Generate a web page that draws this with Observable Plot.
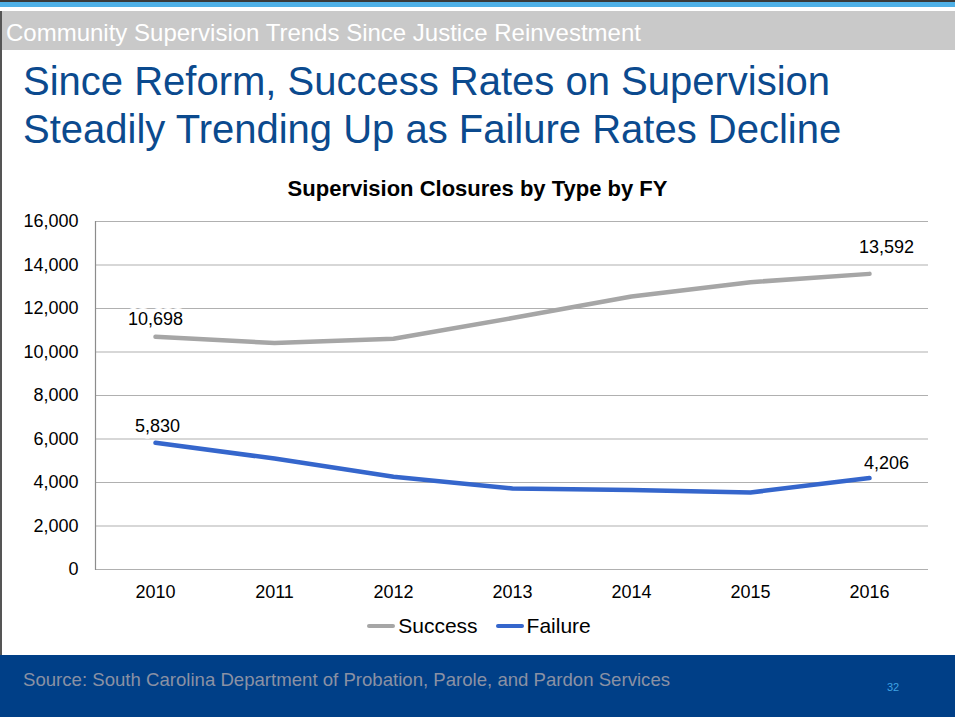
<!DOCTYPE html>
<html>
<head>
<meta charset="utf-8">
<script src="https://cdn.jsdelivr.net/npm/d3@7"></script>
<script src="https://cdn.jsdelivr.net/npm/@observablehq/plot@0.6"></script>
<style>
  html, body { margin:0; padding:0; }
  body { width:955px; height:717px; overflow:hidden; background:#fff; position:relative;
         font-family: Arial, "Liberation Sans", Helvetica, sans-serif; }
  .abs { position:absolute; }
  #topline { left:0; top:0; width:955px; height:2px; background:#3a3a3a; }
  #blueband { left:0; top:2px; width:955px; height:5px; background:#4fb0e6; }
  #grayband { left:0; top:11px; width:955px; height:39px; background:#c9c9c9; }
  #section { left:6px; top:12px; height:39px; line-height:41px; font-size:24px; color:#fff; white-space:nowrap; }
  #leftborder { left:0; top:11px; width:1.5px; height:644px; background:#555; }
  #title { left:23px; top:57px; font-size:40px; line-height:48px; color:#0b4a8e; white-space:nowrap; }
  #charttitle { left:0; width:955px; top:176px; text-align:center; font-size:22px; font-weight:bold; color:#000; }
  #chart { left:0; top:200px; }
  #legend { left:0; width:958px; top:614px; display:flex; justify-content:center; align-items:center; font-size:21px; color:#000; }
  .sw { display:inline-block; width:28px; height:4px; border-radius:2px; margin-right:3px; }
  .item { display:flex; align-items:center; margin:0 9px; }
  #footer { left:0; top:655px; width:955px; height:62px; background:#003f87; }
  #source { left:23px; top:669px; font-size:18.6px; color:#8a91a4; white-space:nowrap; }
  #page { left:887px; top:681px; font-size:11px; color:#3fa2e3; }
</style>
</head>
<body>
<div id="topline" class="abs"></div>
<div id="blueband" class="abs"></div>
<div id="grayband" class="abs"></div>
<div id="section" class="abs">Community Supervision Trends Since Justice Reinvestment</div>
<div id="leftborder" class="abs"></div>
<div id="title" class="abs">Since Reform, Success Rates on Supervision<br>Steadily Trending Up as Failure Rates Decline</div>
<div id="charttitle" class="abs">Supervision Closures by Type by FY</div>
<div id="chart" class="abs"></div>
<div id="legend" class="abs">
  <span class="item"><span class="sw" style="background:#a6a6a6"></span>Success</span>
  <span class="item"><span class="sw" style="background:#3566cc"></span>Failure</span>
</div>
<div id="footer" class="abs"></div>
<div id="source" class="abs">Source: South Carolina Department of Probation, Parole, and Pardon Services</div>
<div id="page" class="abs">32</div>
<script>
const years = ["2010", "2011", "2012", "2013", "2014", "2015", "2016"];
const success = [10698, 10410, 10610, 11560, 12555, 13210, 13592];
const failure = [5830, 5100, 4262, 3725, 3650, 3540, 4206];
const seriesNames = ["Success", "Failure"];
const seriesColors = ["#a6a6a6", "#3566cc"];
const yTicks = [0, 2000, 4000, 6000, 8000, 10000, 12000, 14000, 16000];

const data = years.flatMap((yr, i) => [
  {year: yr, series: "Success", value: success[i]},
  {year: yr, series: "Failure", value: failure[i]}
]);
const first = years[0], last = years[years.length - 1];
const fmt = d3.format(",");

const labelStyle = {x: "year", y: "value", text: d => fmt(d.value), fill: "#000",
  stroke: "white", strokeWidth: 8, fontSize: 18};

const chart = Plot.plot({
  width: 955,
  height: 410,
  marginTop: 21,
  marginBottom: 41,
  marginLeft: 95,
  marginRight: 27,
  style: {fontFamily: "Arial, 'Liberation Sans', Helvetica, sans-serif", fontSize: "18px", color: "#000", background: "transparent"},
  x: {type: "point", domain: years, padding: 0.5, label: null, tickSize: 0, tickPadding: 16},
  y: {domain: [0, 16000], ticks: yTicks, tickFormat: fmt, label: null, tickSize: 0, tickPadding: 17},
  color: {domain: seriesNames, range: seriesColors},
  marks: [
    Plot.ruleY(yTicks, {stroke: "#b0b0b0", strokeWidth: 1.2}),
    Plot.frame({anchor: "left", stroke: "#8c8c8c", strokeWidth: 1.2}),
    Plot.line(data, {x: "year", y: "value", z: "series", stroke: "series", strokeWidth: 4.5,
      strokeLinecap: "round", strokeLinejoin: "round"}),
    Plot.text(data, {...labelStyle, filter: d => d.series === "Success" && d.year === first, dy: -18}),
    Plot.text(data, {...labelStyle, filter: d => d.series === "Success" && d.year === last, dy: -27, dx: 17}),
    Plot.text(data, {...labelStyle, filter: d => d.series === "Failure" && d.year === first, dy: -16, dx: 2}),
    Plot.text(data, {...labelStyle, filter: d => d.series === "Failure" && d.year === last, dy: -15, dx: 17})
  ]
});
document.getElementById("chart").appendChild(chart);
</script>
</body>
</html>
